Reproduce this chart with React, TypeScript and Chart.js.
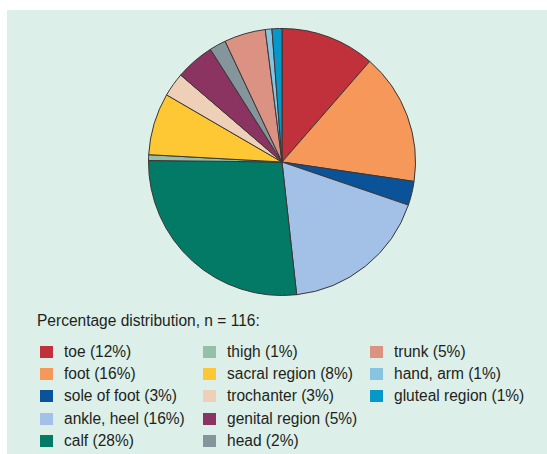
import React, { useEffect, useRef } from "react";
import { Chart, registerables } from "chart.js";

Chart.register(...registerables);

const categories = [
  "toe",
  "foot",
  "sole of foot",
  "ankle, heel",
  "calf",
  "thigh",
  "sacral region",
  "trochanter",
  "genital region",
  "head",
  "trunk",
  "hand, arm",
  "gluteal region",
];
const legendPercents = ["12%", "16%", "3%", "16%", "28%", "1%", "8%", "3%", "5%", "2%", "5%", "1%", "1%"];
const sliceValues = [11.4, 15.9, 2.9, 18.0, 26.9, 0.7, 7.5, 2.9, 4.7, 2.0, 5.0, 0.8, 1.2];
const colors = [
  "#c0313b",
  "#f6985a",
  "#0b5399",
  "#a3c0e6",
  "#037a66",
  "#93c0a6",
  "#fdc833",
  "#eed0b8",
  "#8c3461",
  "#84959c",
  "#dc9282",
  "#86c4e0",
  "#0598c8",
];
const title = "Percentage distribution, n = 116:";

const FONT = "'Liberation Sans', Arial, sans-serif";

export default function App() {
  const ref = useRef<HTMLCanvasElement | null>(null);

  useEffect(() => {
    document.body.style.margin = "0";
    if (!ref.current) return;
    const chart = new Chart(ref.current, {
      type: "pie",
      data: {
        labels: categories,
        datasets: [
          {
            data: sliceValues,
            backgroundColor: colors,
            borderColor: "#3a3535",
            borderWidth: 1,
          },
        ],
      },
      options: {
        animation: false,
        responsive: false,
        maintainAspectRatio: false,
        layout: { padding: 0 },
        plugins: {
          legend: { display: false },
          tooltip: { enabled: false },
          title: { display: false },
        },
      },
    });
    return () => chart.destroy();
  }, []);

  const cols = [
    { x: 40, items: [0, 1, 2, 3, 4] },
    { x: 203, items: [5, 6, 7, 8, 9] },
    { x: 370, items: [10, 11, 12] },
  ];
  const rowY = [352, 374, 396, 419, 441];

  const textStyle = {
    position: "absolute" as const,
    transform: "translateY(-50%) scaleX(0.97)",
    transformOrigin: "left center",
    fontFamily: FONT,
    fontSize: 16,
    color: "#231f20",
    whiteSpace: "nowrap" as const,
    lineHeight: "18px",
  };

  return (
    <div style={{ position: "fixed", left: 0, top: 0, width: 547, height: 454, background: "#fff", overflow: "hidden" }}>
      <div style={{ position: "absolute", left: 7, top: 10, width: 540, height: 444, background: "#dcefe9" }} />
      <canvas
        ref={ref}
        width={268}
        height={268}
        style={{ position: "absolute", left: 148, top: 28, width: 268, height: 268 }}
      />
      <div style={{ ...textStyle, left: 37, top: 321 }}>{title}</div>
      {cols.map((c, ci) =>
        c.items.map((idx, ri) => (
          <div key={ci + "-" + ri}>
            <div
              style={{
                position: "absolute",
                left: c.x,
                top: rowY[ri] - 6,
                width: 13,
                height: 12,
                background: colors[idx],
              }}
            />
            <div style={{ ...textStyle, left: c.x + 24, top: rowY[ri] }}>
              {categories[idx] + " (" + legendPercents[idx] + ")"}
            </div>
          </div>
        ))
      )}
    </div>
  );
}
